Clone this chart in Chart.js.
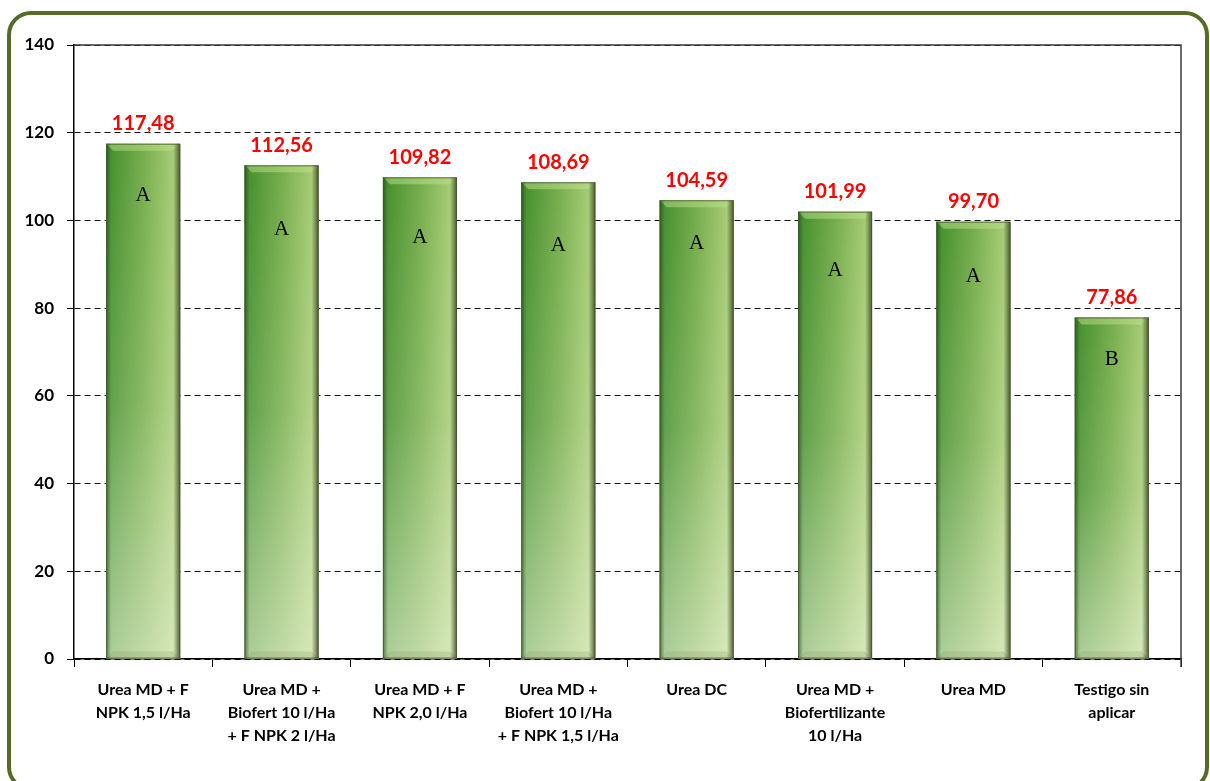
<!DOCTYPE html>
<html><head><meta charset="utf-8">
<script src="https://cdn.jsdelivr.net/npm/chart.js@4.4.1/dist/chart.umd.min.js"></script>
<style>
html,body{margin:0;padding:0;background:#fff;width:1210px;height:781px;overflow:hidden;}
#card{position:absolute;left:7px;top:11px;width:1194px;height:772px;border:4px solid #566b28;border-radius:24px;}
#c{position:absolute;left:0;top:0;}
</style></head><body>
<div id="card"></div>
<canvas id="c" width="1210" height="781"></canvas>
<script>
const categories = [
  ["Urea MD + F", "NPK 1,5 l/Ha"],
  ["Urea MD +", "Biofert 10 l/Ha", "+ F NPK 2 l/Ha"],
  ["Urea MD + F", "NPK 2,0 l/Ha"],
  ["Urea MD +", "Biofert 10 l/Ha", "+ F NPK 1,5 l/Ha"],
  ["Urea DC"],
  ["Urea MD +", "Biofertilizante", "10 l/Ha"],
  ["Urea MD"],
  ["Testigo sin", "aplicar"]
];
const values = [117.48, 112.56, 109.82, 108.69, 104.59, 101.99, 99.70, 77.86];
const groupLetters = ["A", "A", "A", "A", "A", "A", "A", "B"];
const letterLevels = [105.6, 98.0, 96.2, 94.4, 94.8, 88.5, 87.3, 68.2];
const yTicks = [0, 20, 40, 60, 80, 100, 120, 140];

const fmt = v => v.toFixed(2).replace('.', ',');

const barStyle = {
  id: 'barStyle',
  beforeDatasetsDraw(chart) {
    const ctx = chart.ctx;
    const a = chart.chartArea;
    ctx.save();
    ctx.strokeStyle = '#3a3a3a';
    ctx.lineWidth = 1.5;
    ctx.beginPath();
    ctx.moveTo(a.left, a.top);
    ctx.lineTo(a.right, a.top);
    ctx.lineTo(a.right, a.bottom + 8);
    ctx.stroke();
    ctx.restore();
  },
  afterDatasetsDraw(chart) {
    const ctx = chart.ctx;
    const ys = chart.scales.y;
    chart.getDatasetMeta(0).data.forEach((el, i) => {
      const p = el.getProps(['x', 'y', 'base', 'width'], true);
      const L = p.x - p.width / 2, R = p.x + p.width / 2, T = p.y, B = p.base;
      const H = B - T;
      ctx.save();
      let g = ctx.createLinearGradient(L, 0, R, 0);
      g.addColorStop(0, '#408d2c');
      g.addColorStop(0.5, '#76ad4c');
      g.addColorStop(1, '#b0d27e');
      ctx.fillStyle = g;
      ctx.fillRect(L, T, p.width, H);
      g = ctx.createLinearGradient(0, T, 0, B);
      g.addColorStop(0, 'rgba(255,255,240,0)');
      g.addColorStop(0.5, 'rgba(255,255,240,0.15)');
      g.addColorStop(1, 'rgba(255,255,240,0.55)');
      ctx.fillStyle = g;
      ctx.fillRect(L, T, p.width, H);
      const b = 7;
      ctx.beginPath();
      ctx.moveTo(L, T); ctx.lineTo(R, T); ctx.lineTo(R - b, T + b); ctx.lineTo(L + b, T + b); ctx.closePath();
      ctx.fillStyle = 'rgba(190,225,140,0.5)';
      ctx.fill();
      ctx.beginPath();
      ctx.moveTo(L, B); ctx.lineTo(R, B); ctx.lineTo(R - b, B - b); ctx.lineTo(L + b, B - b); ctx.closePath();
      ctx.fillStyle = 'rgba(150,170,110,0.3)';
      ctx.fill();
      g = ctx.createLinearGradient(R - 7, 0, R, 0);
      g.addColorStop(0, 'rgba(45,60,25,0)');
      g.addColorStop(1, 'rgba(45,60,25,0.8)');
      ctx.fillStyle = g;
      ctx.fillRect(R - 7, T, 7, H);
      g = ctx.createLinearGradient(L, 0, L + 5, 0);
      g.addColorStop(0, 'rgba(35,65,20,0.6)');
      g.addColorStop(1, 'rgba(35,65,20,0)');
      ctx.fillStyle = g;
      ctx.fillRect(L, T, 5, H);
      ctx.strokeStyle = 'rgba(70,80,50,0.7)';
      ctx.lineWidth = 1;
      ctx.strokeRect(L + 0.5, T + 0.5, p.width - 1, H - 1);
      ctx.fillStyle = '#ff0000';
      ctx.font = 'bold 20px Lato';
      ctx.textAlign = 'center';
      ctx.textBaseline = 'middle';
      ctx.fillText(fmt(values[i]), p.x, T - 20);
      ctx.fillStyle = '#000';
      ctx.font = '21px "Liberation Serif"';
      ctx.fillText(groupLetters[i], p.x, ys.getPixelForValue(letterLevels[i]));
      ctx.restore();
    });
  }
};

new Chart(document.getElementById('c'), {
  type: 'bar',
  data: {
    labels: categories,
    datasets: [{
      data: values,
      backgroundColor: '#6ca646',
      borderWidth: 0,
      categoryPercentage: 1,
      barPercentage: 0.535
    }]
  },
  options: {
    responsive: false,
    animation: false,
    events: [],
    layout: { padding: { top: 45, right: 29, left: 0, bottom: 0 } },
    plugins: { legend: { display: false }, tooltip: { enabled: false } },
    scales: {
      x: {
        offset: true,
        afterFit: s => { s.height = 122; },
        grid: { drawOnChartArea: false, drawTicks: true, tickLength: 8, color: '#000', offset: true },
        border: { color: '#000', width: 1.5 },
        ticks: {
          color: '#000', padding: 11, maxRotation: 0, autoSkip: false,
          font: { family: 'Lato', weight: 'bold', size: 16, lineHeight: 1.45 }
        }
      },
      y: {
        min: 0, max: 140,
        afterFit: s => { s.width = 74; },
        afterBuildTicks: s => { s.ticks = yTicks.map(v => ({ value: v })); },
        grid: { color: '#111', lineWidth: 1, drawTicks: true, tickLength: 7, tickColor: '#000' },
        border: { color: '#000', width: 1.5, dash: [6, 4] },
        ticks: {
          color: '#000', padding: 13,
          font: { family: 'Lato', weight: 'bold', size: 17 }
        }
      }
    }
  },
  plugins: [barStyle]
});
</script>
</body></html>
